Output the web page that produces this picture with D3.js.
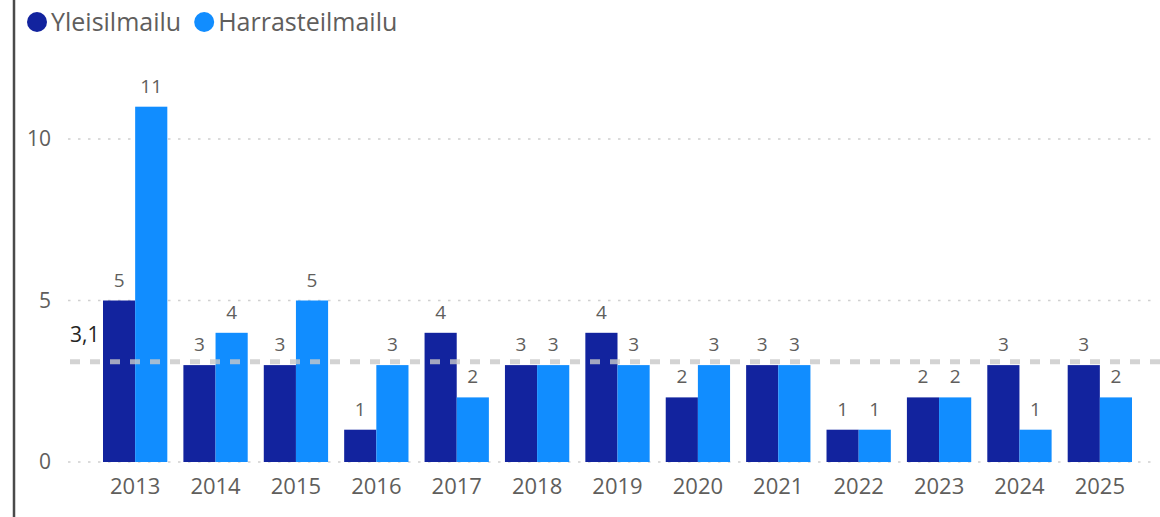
<!DOCTYPE html>
<html>
<head>
<meta charset="utf-8">
<script src="https://cdn.jsdelivr.net/npm/d3@7"></script>
<style>
    body { margin: 0; background: #fff; }
    svg text { font-family: "Segoe UI", "Open Sans", "Noto Sans", sans-serif; }
</style>
</head>
<body>
<div id="chart"></div>
<script>
// Chart data
const years = ['2013', '2014', '2015', '2016', '2017', '2018', '2019', '2020', '2021', '2022', '2023', '2024', '2025'];
const seriesNames = ['Yleisilmailu', 'Harrasteilmailu'];
const yleisilmailu = [5, 3, 3, 1, 4, 3, 4, 2, 3, 1, 2, 3, 3];
const harrasteilmailu = [11, 4, 5, 3, 2, 3, 3, 3, 3, 1, 2, 1, 2];
const yTicks = [0, 5, 10];
const averageValue = 3.1;
const averageLabel = '3,1';

const colors = ['#12239E', '#118DFF'];
const width = 1160, height = 517;

const svg = d3.select('#chart')
    .append('svg')
    .attr('width', width)
    .attr('height', height);

// Left frame border
svg.append('line')
    .attr('x1', 14).attr('x2', 14)
    .attr('y1', 0).attr('y2', height)
    .attr('stroke', '#4a4a4a')
    .attr('stroke-width', 2.5);

// Scales
const x0 = d3.scaleBand()
    .domain(years)
    .range([103, 1132])
    .paddingInner(0.2)
    .paddingOuter(0);

const x1 = d3.scaleBand()
    .domain(seriesNames)
    .range([0, x0.bandwidth()]);

const y = d3.scaleLinear()
    .domain([0, 10])
    .range([462, 139]);

// Gridlines
svg.append('g')
    .selectAll('line')
    .data(yTicks)
    .join('line')
    .attr('x1', 68).attr('x2', 1158)
    .attr('y1', d => y(d)).attr('y2', d => y(d))
    .attr('stroke', '#d0d0d0')
    .attr('stroke-width', 1.5)
    .attr('stroke-dasharray', '2.5,7.5');

// Y axis labels
svg.append('g')
    .selectAll('text')
    .data(yTicks)
    .join('text')
    .attr('x', 51)
    .attr('y', d => y(d))
    .attr('dy', '0.35em')
    .attr('text-anchor', 'end')
    .attr('fill', '#605E5C')
    .attr('font-size', 21)
    .text(d => d);

// Bars
const rows = years.map((yr, i) => ({
    year: yr,
    values: [
        { key: seriesNames[0], value: yleisilmailu[i] },
        { key: seriesNames[1], value: harrasteilmailu[i] }
    ]
}));

const groups = svg.append('g')
    .selectAll('g')
    .data(rows)
    .join('g')
    .attr('transform', d => `translate(${x0(d.year)},0)`);

groups.selectAll('rect')
    .data(d => d.values)
    .join('rect')
    .attr('x', d => x1(d.key))
    .attr('y', d => y(d.value))
    .attr('width', x1.bandwidth())
    .attr('height', d => y(0) - y(d.value))
    .attr('fill', (d, i) => colors[i]);

// Data labels
groups.selectAll('text')
    .data(d => d.values)
    .join('text')
    .attr('x', d => x1(d.key) + x1.bandwidth() / 2)
    .attr('y', d => y(d.value) - 14)
    .attr('text-anchor', 'middle')
    .attr('fill', '#605E5C')
    .attr('font-size', 19)
    .text(d => d.value);

// Average line (drawn over the bars)
svg.append('line')
    .attr('x1', 70).attr('x2', width)
    .attr('y1', y(averageValue)).attr('y2', y(averageValue))
    .attr('stroke', '#c8c8c8')
    .attr('stroke-opacity', 0.8)
    .attr('stroke-width', 5)
    .attr('stroke-dasharray', '10,10');

svg.append('text')
    .attr('x', 70)
    .attr('y', y(averageValue) - 20)
    .attr('fill', '#252423')
    .attr('font-size', 21)
    .text(averageLabel);

// X axis labels
svg.append('g')
    .selectAll('text')
    .data(years)
    .join('text')
    .attr('x', d => x0(d) + x0.bandwidth() / 2)
    .attr('y', 494)
    .attr('text-anchor', 'middle')
    .attr('fill', '#605E5C')
    .attr('font-size', 22)
    .text(d => d);

// Legend
const legend = svg.append('g');
let lx = 37;
seriesNames.forEach((name, i) => {
    legend.append('circle')
        .attr('cx', lx)
        .attr('cy', 22)
        .attr('r', 10)
        .attr('fill', colors[i]);
    const t = legend.append('text')
        .attr('x', lx + 14)
        .attr('y', 22)
        .attr('dy', '0.35em')
        .attr('fill', '#605E5C')
        .attr('font-size', 25)
        .text(name);
    lx += 14 + t.node().getComputedTextLength() + 23;
});
</script>
</body>
</html>
